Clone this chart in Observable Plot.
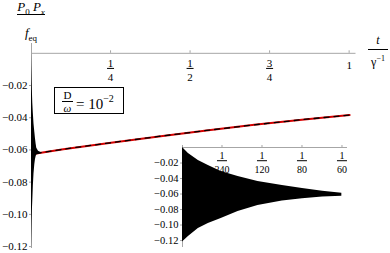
<!DOCTYPE html>
<html><head><meta charset="utf-8">
<script src="https://cdn.jsdelivr.net/npm/d3@7"></script>
<script src="https://cdn.jsdelivr.net/npm/@observablehq/plot@0.6"></script>
<style>
body{margin:0;background:#fff;}
#wrap{position:relative;width:390px;height:253px;font-family:"Liberation Serif","Times New Roman",serif;color:#000;overflow:hidden;}
#wrap svg{position:absolute;overflow:visible;}
#wrap svg text{font-family:"Liberation Serif","Times New Roman",serif;}
.t{position:absolute;white-space:nowrap;line-height:1;}
.bar{position:absolute;height:0;border-top:1px solid #000;}
</style></head><body><div id="wrap"></div>
<script>
// oscillation envelope (time, upper and lower peaks)
const oscT = [0, 0.00062, 0.00165, 0.00269, 0.00403, 0.00579, 0.00786, 0.0104, 0.0125, 0.0146, 0.0166, 0.022, 0.03];
const oscUpper = [0, -0.0077, -0.0168, -0.0232, -0.031, -0.0374, -0.0439, -0.049, -0.053, -0.0565, -0.059, -0.0608, -0.0616];
const oscLower = [-0.122, -0.1148, -0.1045, -0.098, -0.0916, -0.0826, -0.0748, -0.069, -0.066, -0.064, -0.063, -0.0628, -0.0622];
// slow trend (red curve)
const trendT = [0.015, 0.1, 0.25, 0.4, 0.55, 0.7, 0.85, 1.0];
const trendV = [-0.0622, -0.0595, -0.0555, -0.0516, -0.0479, -0.0444, -0.0412, -0.0383];
// ticks
const mainXTicks = [0.25, 0.5, 0.75, 1];
const mainXNum = ["1", "1", "3", "1"];
const mainXDen = ["4", "2", "4", ""];
const yTicks = [-0.02, -0.04, -0.06, -0.08, -0.10, -0.12];
const insetXTicks = [1/240, 1/120, 1/80, 1/60];
const insetXNum = ["1", "1", "1", "1"];
const insetXDen = ["240", "120", "80", "60"];

const font = "Liberation Serif, Times New Roman, serif";
const axisGray = "#a6a6a6";
const osc = oscT.map((t, i) => ({t, hi: oscUpper[i], lo: oscLower[i]}));
const trend = trendT.map((t, i) => ({t, v: trendV[i]}));
const wrap = document.getElementById("wrap");

function fracAxis(chart, ticks, nums, dens, o) {
  const sx = chart.scale("x"), sy = chart.scale("y");
  const y0 = sy.apply(0);
  const g = d3.select(chart).append("g").attr("font-family", font).attr("font-size", o.fs).attr("text-anchor", "middle").attr("fill", "black");
  ticks.forEach((t, i) => {
    const x = sx.apply(t);
    g.append("line").attr("x1", x).attr("x2", x).attr("y1", y0).attr("y2", y0 - o.tick).attr("stroke", axisGray);
    if (dens[i]) {
      g.append("text").attr("x", x).attr("y", y0 + o.numY).text(nums[i]);
      g.append("line").attr("x1", x - o.bar / 2).attr("x2", x + o.bar / 2).attr("y1", y0 + o.barY).attr("y2", y0 + o.barY).attr("stroke", "black").attr("stroke-width", 1);
      g.append("text").attr("x", x).attr("y", y0 + o.denY).text(dens[i]);
    } else {
      g.append("text").attr("x", x).attr("y", y0 + o.oneY).text(nums[i]);
    }
  });
}

const main = Plot.plot({
  width: 390, height: 253,
  marginLeft: 31, marginRight: 34.5, marginTop: 43, marginBottom: 5,
  x: {domain: [0, 1.02], axis: null},
  y: {domain: [-0.1212, 0.0061]},
  style: {fontFamily: font, fontSize: "11px", color: "black", background: "transparent"},
  marks: [
    Plot.ruleY([0], {stroke: axisGray}),
    Plot.ruleX([0], {stroke: axisGray}),
    Plot.axisY({ticks: yTicks, tickFormat: d3.format(".2f"), tickSize: 2, tickPadding: 2, stroke: axisGray, fill: "black", fontSize: 11}),
    Plot.line(trend, {x: "t", y: "v", stroke: "#d60000", strokeWidth: 2}),
    Plot.line(trend, {x: "t", y: "v", stroke: "black", strokeWidth: 1.3, strokeDasharray: "5,5"}),
    Plot.areaY(osc, {x: "t", y1: "lo", y2: "hi", fill: "black"})
  ]
});
main.style.left = "0px"; main.style.top = "0px";
wrap.appendChild(main);
fracAxis(main, mainXTicks, mainXNum, mainXDen, {fs: 11, tick: 2.5, numY: 14, barY: 15.6, denY: 28, oneY: 16, bar: 7});

const inset = Plot.plot({
  width: 215, height: 118,
  marginLeft: 42, marginRight: 8, marginTop: 10, marginBottom: 6,
  x: {domain: [0, 0.01719], axis: null},
  y: {domain: [-0.1290, 0.0026]},
  style: {fontFamily: font, fontSize: "10.5px", color: "black", background: "transparent"},
  marks: [
    Plot.ruleY([0], {stroke: axisGray}),
    Plot.ruleX([0], {stroke: axisGray}),
    Plot.axisY({ticks: yTicks, tickFormat: d3.format(".2f"), tickSize: 2, tickPadding: 2, stroke: axisGray, fill: "black", fontSize: 10.5}),
    Plot.areaY(osc.filter(d => d.t <= 0.0166), {x: "t", y1: "lo", y2: "hi", fill: "black", clip: true})
  ]
});
inset.style.left = "140px"; inset.style.top = "135px";
wrap.appendChild(inset);
fracAxis(inset, insetXTicks, insetXNum, insetXDen, {fs: 10, tick: 2, numY: 12, barY: 13.7, denY: 26, oneY: 14, bar: 10});

// overlay labels
wrap.insertAdjacentHTML("beforeend", `
<div class="t" style="left:15px;top:0px;width:32px;text-align:center;font-size:13px;font-style:italic;">P<sub style="font-style:normal;font-size:9px">0</sub> P<sub style="font-size:9px">x</sub></div>
<div class="bar" style="left:17px;top:14px;width:28px;"></div>
<div class="t" style="left:15px;top:26px;width:32px;text-align:center;font-size:13px;"><i>f</i><sub style="font-size:9px">eq</sub></div>

<div class="t" style="left:368px;top:34px;width:20px;text-align:center;font-size:12px;font-style:italic;">t</div>
<div class="bar" style="left:368px;top:49px;width:20px;"></div>
<div class="t" style="left:366px;top:55px;width:24px;text-align:center;font-size:12px;">γ<sup style="font-size:8px">−1</sup></div>

<div style="position:absolute;left:54px;top:87px;width:68px;height:25px;border:1.5px solid #000;"></div>
<div class="t" style="left:62px;top:90px;width:11px;text-align:center;font-size:11px;">D</div>
<div class="bar" style="left:62px;top:101px;width:11px;"></div>
<div class="t" style="left:62px;top:103px;width:11px;text-align:center;font-size:11px;font-style:italic;">ω</div>
<div class="t" style="left:76px;top:95px;font-size:15px;">= 10<sup style="font-size:10px;position:relative;top:-1px;">−2</sup></div>
`);
</script>
</body></html>
